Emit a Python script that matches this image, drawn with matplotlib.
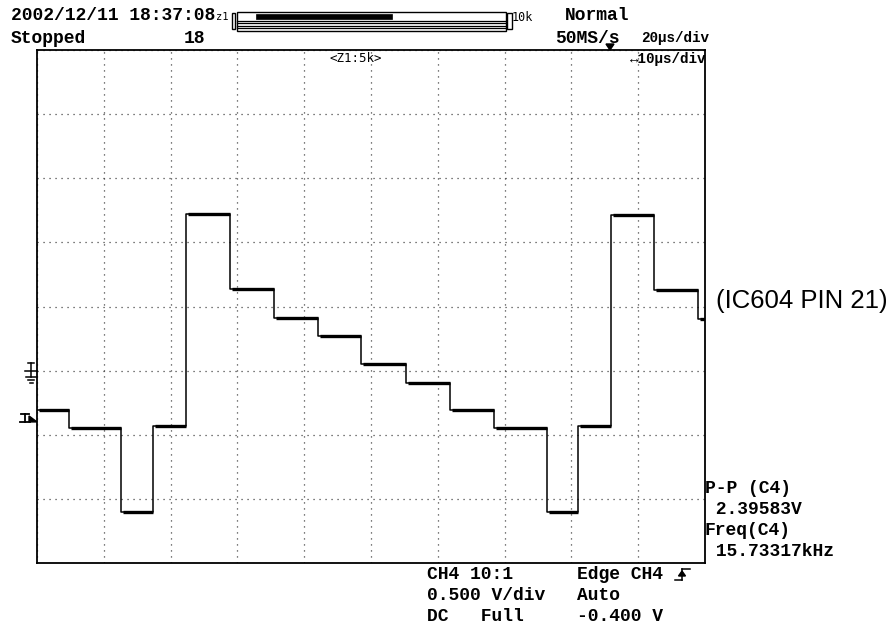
import numpy as np
import matplotlib
matplotlib.use("Agg")
import matplotlib.pyplot as plt
from matplotlib.lines import Line2D
from matplotlib.patches import Rectangle, Polygon

# CH4 trace, zoomed window Z1 (10 us/div, 0.5 V/div), ground at 0 V
edge_times_us = [0, 4.8, 12.6, 17.4, 22.3, 28.9, 35.5, 42.1, 48.5, 55.2,
                 61.8, 68.4, 76.3, 81.0, 85.9, 92.4, 99.0, 100]
levels_v = [-0.31, -0.45, -1.10, -0.43, 1.22, 0.64, 0.41, 0.27, 0.05,
            -0.10, -0.31, -0.45, -1.10, -0.43, 1.21, 0.63, 0.40]

trig_level_v = -0.400
volts_per_div = 0.5
us_per_div = 10
n_xdiv = 10
n_ydiv = 8
y_bottom_v = -1.5

header_left = ["2002/12/11 18:37:08", "Stopped"]
record_no = "18"
mode_txt = "Normal"
rate_txt = "50MS/s"
tdiv_txt = "20µs/div"
zoom_tdiv_txt = "↔10µs/div"
zoom_lbl = "<Z1:5k>"
ch_info = ["CH4 10:1", "0.500 V/div", "DC   Full"]
trig_info = ["Edge CH4", "Auto", "-0.400 V"]
meas_info = ["P-P (C4)", " 2.39583V", "Freq(C4)", " 15.73317kHz"]
pin_label = "(IC604 PIN 21)"

W, H = 891, 625
mono = ["Liberation Mono", "DejaVu Sans Mono"]
plt.rcParams["font.family"] = mono


def fx(px):
    return px / W


def fy(py):
    return 1 - py / H


fig = plt.figure(figsize=(W / 100, H / 100), dpi=100, facecolor="white")
ax = fig.add_axes([fx(37), fy(563), (705 - 37) / W, (563 - 50) / H])

x_max = n_xdiv * us_per_div
y_top = y_bottom_v + n_ydiv * volts_per_div
ax.set_xlim(0, x_max)
ax.set_ylim(y_bottom_v, y_top)
ax.set_xticks(np.arange(0, x_max + 1, us_per_div))
ax.set_yticks(np.arange(y_bottom_v, y_top + 0.01, volts_per_div))
ax.tick_params(length=0, labelbottom=False, labelleft=False)
ax.grid(True, color="#333333", lw=0.9, ls=(0, (0.9, 3.9)))
for s in ax.spines.values():
    s.set_linewidth(1.3)

# trace: thin transitions, thick (noisy) levels
t = np.array(edge_times_us)
v = np.array(levels_v)
ax.step(t, np.append(v, v[-1]), where="post", color="black", lw=1.1, zorder=3)
ax.hlines(v, t[:-1] + 0.3, t[1:], color="black", lw=2.4, zorder=3)

# left-side markers (ground and trigger level), in axes-x / data-y
tr = ax.get_yaxis_transform()
pxv = volts_per_div / ((563 - 50) / n_ydiv)   # volts per pixel
pxx = 1.0 / (705 - 37)                       # axes fraction per pixel
g = 0.0
for xs, ys in [
    ([-12, 0], [g, g]),
    ([-6, -6], [g + 8 * pxv, g - 6 * pxv]),
    ([-9, -3], [g + 8 * pxv, g + 8 * pxv]),
    ([-11, -1], [g - 6 * pxv, g - 6 * pxv]),
    ([-9, -3], [g - 9 * pxv, g - 9 * pxv]),
    ([-7.5, -4.5], [g - 12 * pxv, g - 12 * pxv]),
]:
    ax.add_line(Line2D(np.array(xs) * pxx, ys, transform=tr, color="black",
                       lw=1.1, clip_on=False))
tl = trig_level_v
ax.add_line(Line2D(np.array([-16, -8]) * pxx, [tl + 8 * pxv, tl + 8 * pxv],
                   transform=tr, color="black", lw=1.3, clip_on=False))
ax.add_line(Line2D(np.array([-12, -12]) * pxx, [tl + 8 * pxv, tl], transform=tr,
                   color="black", lw=1.3, clip_on=False))
ax.add_line(Line2D(np.array([-17, -7]) * pxx, [tl, tl], transform=tr,
                   color="black", lw=1.3, clip_on=False))
ax.add_patch(Polygon([(-8 * pxx, tl + 6 * pxv), (0, tl), (-8 * pxx, tl)],
                     closed=True, transform=tr, color="black", clip_on=False))

# header text
big = dict(fontsize=13, fontweight="bold", va="top", ha="left")
fig.text(fx(11), fy(7), header_left[0], **big)
fig.text(fx(11), fy(30), header_left[1], **big)
fig.text(fx(184), fy(30), record_no, **big)
fig.text(fx(565), fy(7), mode_txt, **big)
fig.text(fx(555), fy(30), rate_txt, **big)
fig.text(fx(641), fy(31), tdiv_txt, fontsize=10.3, fontweight="bold", va="top",
         ha="left")
fig.text(fx(630), fy(52), zoom_tdiv_txt, fontsize=10.3, fontweight="bold",
         va="top", ha="left")
small = dict(fontsize=9, va="top", ha="left", family=["DejaVu Sans Mono"])
fig.text(fx(330), fy(52), zoom_lbl, **small)
fig.text(fx(216), fy(12), "z1", fontsize=7.5, va="top", ha="left",
         family=["DejaVu Sans Mono"])
fig.text(fx(512), fy(11), "10k", fontsize=8.5, va="top", ha="left",
         family=["DejaVu Sans Mono"])

# zoom position bar
def frect(x0, y0, x1, y1, fill=False, lw=1.0):
    fig.add_artist(Rectangle((fx(x0), fy(y1)), fx(x1 - x0), (y1 - y0) / H,
                             transform=fig.transFigure, fill=fill,
                             facecolor="black", edgecolor="black", lw=lw))


frect(237, 12, 506, 30.5)
frect(232, 13, 235.5, 29)
frect(507, 13, 511.5, 29)
frect(256, 14, 392, 19, fill=True, lw=0.5)
for yy in [21, 23, 26, 28]:
    fig.add_artist(Line2D([fx(237), fx(506)], [fy(yy), fy(yy)],
                          transform=fig.transFigure, color="black", lw=0.9))

# trigger position marker under the sample rate
fig.add_artist(Polygon([(fx(606), fy(44)), (fx(614), fy(44)), (fx(610), fy(50))],
                       closed=True, transform=fig.transFigure, color="black"))

# bottom channel / trigger info
low = dict(fontsize=13, fontweight="bold", va="top", ha="left")
for i, s in enumerate(ch_info):
    fig.text(fx(427), fy(566 + i * 21), s, **low)
for i, s in enumerate(trig_info):
    fig.text(fx(577), fy(566 + i * 21), s, **low)
# rising-edge symbol
for xs, ys in [([675, 682], [580, 580]), ([682, 682], [580, 569]),
               ([682, 690], [569, 569])]:
    fig.add_artist(Line2D([fx(a) for a in xs], [fy(b) for b in ys],
                          transform=fig.transFigure, color="black", lw=1.1))
fig.add_artist(Polygon([(fx(678.5), fy(576)), (fx(685.5), fy(576)), (fx(682), fy(571))],
                       closed=True, transform=fig.transFigure, color="black"))

# measurements
for i, s in enumerate(meas_info):
    fig.text(fx(705), fy(480 + i * 21), s, **low)

fig.text(fx(716), fy(301), pin_label, fontsize=18.5, va="center", ha="left",
         family=["Liberation Sans"])

fig.savefig("out.png", dpi=100, facecolor="white")
